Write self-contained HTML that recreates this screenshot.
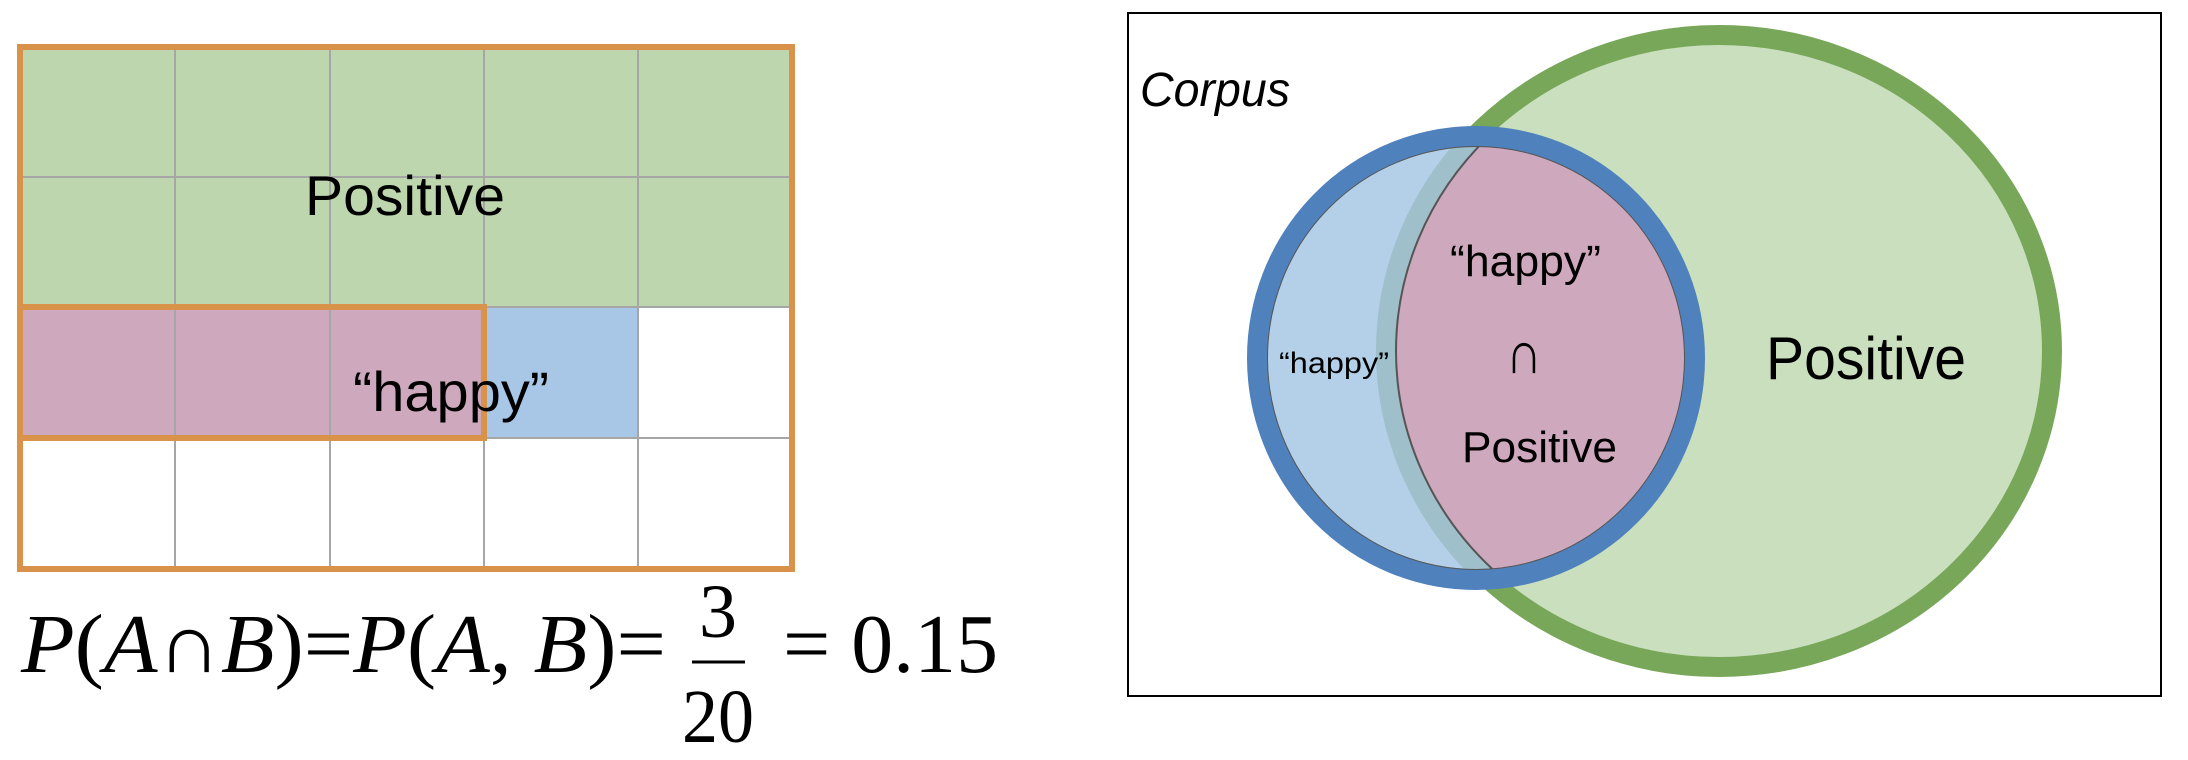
<!DOCTYPE html>
<html><head><meta charset="utf-8"><style>html,body{margin:0;padding:0;background:#fff}svg{display:block}</style></head>
<body>
<svg width="2188" height="760" viewBox="0 0 2188 760" xmlns="http://www.w3.org/2000/svg" font-family="Liberation Sans, sans-serif">
<defs>
<clipPath id="bin"><ellipse cx="1476" cy="358" rx="219" ry="222"/></clipPath>
</defs>
<rect x="20" y="47" width="772" height="260" fill="#bed6ae"/>
<rect x="20" y="307" width="464" height="131" fill="#cea8bd"/>
<rect x="484" y="307" width="154" height="131" fill="#a8c6e6"/>
<g stroke="#a6a6a6" stroke-width="2">
<line x1="175" y1="47" x2="175" y2="569"/><line x1="330" y1="47" x2="330" y2="569"/>
<line x1="484" y1="47" x2="484" y2="569"/><line x1="638" y1="47" x2="638" y2="569"/>
<line x1="20" y1="177" x2="792" y2="177"/><line x1="20" y1="307" x2="792" y2="307"/>
<line x1="20" y1="438" x2="792" y2="438"/>
</g>
<rect x="20" y="307" width="464" height="131" fill="none" stroke="#d9924a" stroke-width="6"/>
<rect x="20" y="47" width="772" height="522" fill="none" stroke="#d9924a" stroke-width="6"/>
<text x="305" y="215" font-size="56" textLength="200" lengthAdjust="spacingAndGlyphs">Positive</text>
<text x="353" y="411" font-size="56" textLength="196" lengthAdjust="spacingAndGlyphs">“happy”</text>
<g font-family="Liberation Serif, serif" font-size="84">
<text x="21" y="672" textLength="645" lengthAdjust="spacingAndGlyphs"><tspan font-style="italic">P</tspan>(<tspan font-style="italic">A</tspan>∩<tspan font-style="italic">B</tspan>)=<tspan font-style="italic">P</tspan>(<tspan font-style="italic">A</tspan>, <tspan font-style="italic">B</tspan>)=</text>
<text x="718" y="637" text-anchor="middle" font-size="76" textLength="38" lengthAdjust="spacingAndGlyphs">3</text>
<line x1="692" y1="662" x2="745" y2="662" stroke="#000" stroke-width="3"/>
<text x="718" y="742" text-anchor="middle" font-size="76" textLength="72" lengthAdjust="spacingAndGlyphs">20</text>
<text x="783" y="672" textLength="215" lengthAdjust="spacingAndGlyphs">= 0.15</text>
</g>
<rect x="1128" y="13" width="1033" height="683" fill="none" stroke="#000" stroke-width="2"/>
<ellipse cx="1719" cy="351" rx="333" ry="316" fill="#c9dfbd" stroke="#78a75a" stroke-width="20"/>
<ellipse cx="1476" cy="358" rx="219" ry="222" fill="#b4cfe8"/>
<g clip-path="url(#bin)">
<ellipse cx="1719" cy="351" rx="333" ry="316" fill="none" stroke="#9fbfca" stroke-width="20"/>
<ellipse cx="1719" cy="351" rx="323" ry="306" fill="#cea8bd" stroke="#555" stroke-width="2"/>
</g>
<ellipse cx="1476" cy="358" rx="209" ry="212" fill="none" stroke="#555" stroke-width="2"/>
<ellipse cx="1476" cy="358" rx="219" ry="222" fill="none" stroke="#4f81bd" stroke-width="20"/>
<text x="1140" y="106" font-size="48" font-style="italic" textLength="150" lengthAdjust="spacingAndGlyphs">Corpus</text>
<text x="1279" y="373" font-size="30" textLength="110" lengthAdjust="spacingAndGlyphs">“happy”</text>
<text x="1450" y="276" font-size="44" textLength="151" lengthAdjust="spacingAndGlyphs">“happy”</text>
<text x="1524" y="373" font-size="60" text-anchor="middle" textLength="36" lengthAdjust="spacingAndGlyphs">∩</text>
<text x="1462" y="462" font-size="44" textLength="155" lengthAdjust="spacingAndGlyphs">Positive</text>
<text x="1766" y="379" font-size="60" textLength="200" lengthAdjust="spacingAndGlyphs">Positive</text>
</svg>
</body></html>
